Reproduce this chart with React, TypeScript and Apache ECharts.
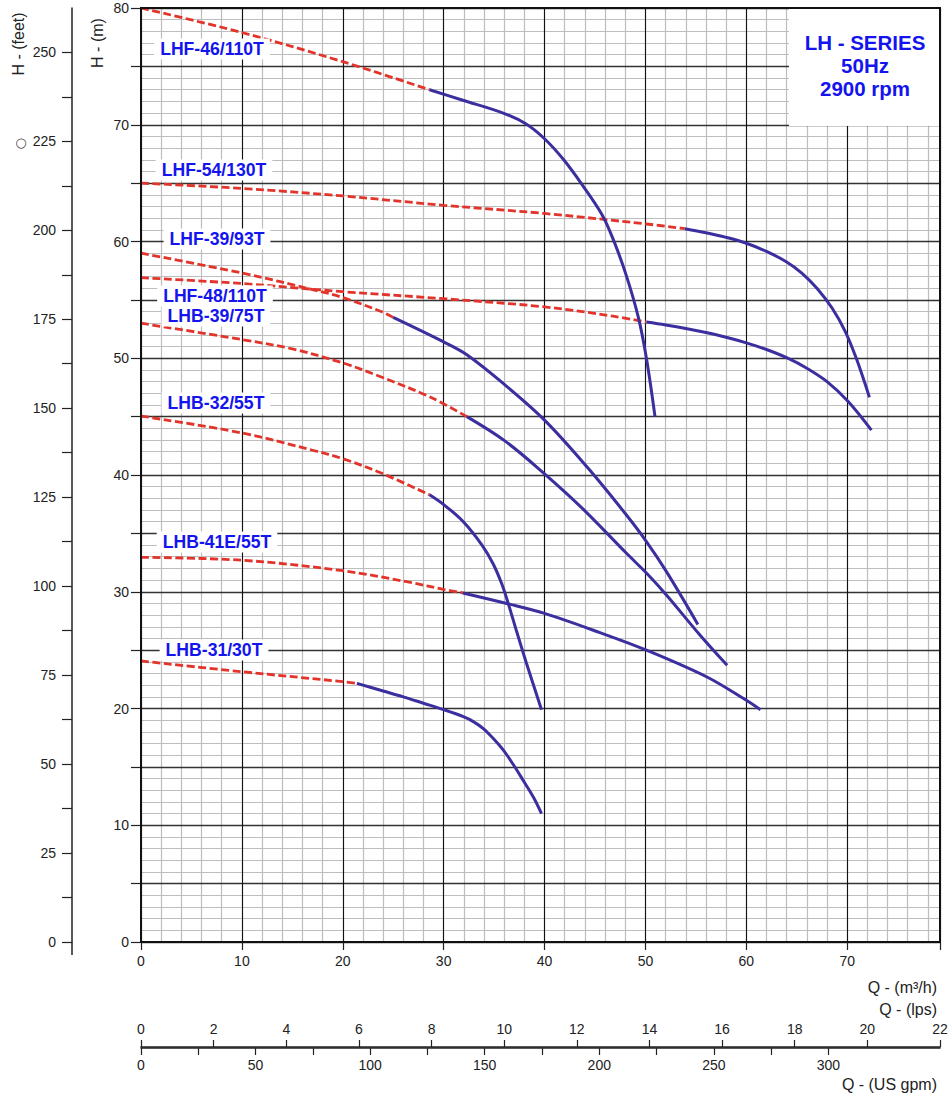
import React, { useEffect, useRef } from "react";
import * as echarts from "echarts";

// ---- Data (Q in m³/h, H in m) ----
const lhf46Dash = [[0, 80], [10, 77.9], [20, 75.4], [28.6, 73.0]];
const lhf46Solid = [[28.6, 73.0], [31.9, 72.1], [35.9, 71.0], [38.1, 70.1], [40.0, 68.8], [41.9, 67.0], [43.7, 64.9], [45.7, 62.3], [46.8, 60.2], [48.1, 57.1], [49.3, 53.5], [50.1, 50.0], [50.95, 45.0]];

const lhf54Dash = [[0, 65.0], [10, 64.55], [20, 63.9], [30, 63.1], [40, 62.4], [50.1, 61.5], [53.9, 61.1]];
const lhf54Solid = [[53.9, 61.1], [56.0, 60.75], [58.0, 60.35], [60.0, 59.85], [62.0, 59.15], [64.0, 58.25], [65.5, 57.3], [67.0, 56.0], [68.5, 54.3], [69.8, 52.3], [70.9, 50.0], [71.7, 48.0], [72.2, 46.65]];

const lhf39Dash = [[0, 59.0], [10, 57.3], [17.4, 55.8], [20, 55.2], [23.8, 54.0], [25.0, 53.5]];
const lhf39Solid = [[25.0, 53.5], [30.0, 51.4], [32.3, 50.3], [36.1, 47.7], [40.0, 44.7], [44.2, 40.7], [48.0, 36.7], [50.1, 34.3], [52.1, 31.7], [55.2, 27.2]];

const lhf48Dash = [[0, 56.9], [10, 56.4], [20, 55.7], [30, 55.1], [40, 54.4], [46.8, 53.6], [50.1, 53.1]];
const lhf48Solid = [[50.1, 53.1], [52.0, 52.85], [54.0, 52.55], [56.0, 52.2], [58.0, 51.8], [60.0, 51.32], [62.0, 50.75], [64.0, 50.05], [66.0, 49.15], [68.0, 48.0], [70.1, 46.3], [72.4, 43.85]];

const lhb39Dash = [[0, 53.0], [10, 51.6], [15, 50.8], [20, 49.6], [23.5, 48.5], [28.6, 46.7], [32.3, 45.0]];
const lhb39Solid = [[32.3, 45.0], [36.1, 42.9], [40.0, 40.1], [43.8, 37.1], [48.0, 33.4], [50.1, 31.6], [52.1, 29.7], [55.4, 26.3], [58.1, 23.7]];

const lhb32Dash = [[0, 45.05], [10, 43.6], [17.1, 42.1], [20, 41.4], [24, 40.1], [28.6, 38.3]];
const lhb32Solid = [[28.6, 38.3], [30.1, 37.4], [31.95, 36.0], [33.8, 34.0], [34.9, 32.4], [35.75, 30.7], [36.4, 29.0], [37.2, 26.7], [38.2, 23.9], [39.7, 19.9]];

const lhb41Dash = [[0, 32.95], [10, 32.7], [20, 31.8], [26.7, 30.8], [30, 30.2], [31.9, 29.9]];
const lhb41Solid = [[31.9, 29.9], [36.25, 29.0], [40.0, 28.15], [45.5, 26.5], [50.1, 25.0], [56.1, 22.7], [60.0, 20.7], [61.4, 19.9]];

const lhb31Dash = [[0, 24.07], [10, 23.15], [20, 22.3], [21.4, 22.15]];
const lhb31Solid = [[21.4, 22.15], [24.0, 21.5], [26.0, 21.0], [28.0, 20.45], [30.0, 19.9], [31.95, 19.3], [32.9, 18.9], [33.9, 18.3], [34.9, 17.45], [35.9, 16.45], [36.9, 15.2], [37.7, 14.1], [38.9, 12.4], [39.7, 11.0]];

const pumpNames = ["LHF-46/110T", "LHF-54/130T", "LHF-39/93T", "LHF-48/110T", "LHB-39/75T", "LHB-32/55T", "LHB-41E/55T", "LHB-31/30T"];
const dashCurves = [lhf46Dash, lhf54Dash, lhf39Dash, lhf48Dash, lhb39Dash, lhb32Dash, lhb41Dash, lhb31Dash];
const solidCurves = [lhf46Solid, lhf54Solid, lhf39Solid, lhf48Solid, lhb39Solid, lhb32Solid, lhb41Solid, lhb31Solid];

// Axis tick values
const feetTicks = Array.from({ length: 21 }, (_, i) => i * 12.5);
const feetLabels = Array.from({ length: 11 }, (_, i) => i * 25);
const gpmTicks = Array.from({ length: 13 }, (_, i) => i * 25);
const gpmLabels = Array.from({ length: 7 }, (_, i) => i * 50);
const titleLines = ["LH - SERIES", "50Hz", "2900 rpm"];

// Unit conversions
const Q_MAX = 79.2; // m³/h
const H_MAX = 80; // m
const FEET_MAX = H_MAX / 0.3048;
const LPS_MAX = Q_MAX / 3.6;
const GPM_MAX = Q_MAX / 0.2271247;

const FONT = '"Liberation Sans", Arial, Helvetica, sans-serif';
const TXT = "#222";
const RED = "#e2342a";
const BLUE = "#3b2f9f";
const LABEL_BLUE = "#1414ee";

const G = { left: 141, top: 8, width: 799, height: 934 };

// label centres (px)
const labelPos = [
  [212, 49], [214, 170], [217, 239], [215, 296], [216, 316], [216, 403], [217, 542], [214, 650],
];

export default function App() {
  const ref = useRef<HTMLDivElement>(null);
  useEffect(() => {
    const chart = echarts.init(ref.current!, null, { renderer: "svg" });
    const series: any[] = [];
    pumpNames.forEach((name, i) => {
      series.push({
        name: name + " (ext)",
        type: "line",
        xAxisIndex: 0,
        yAxisIndex: 0,
        data: dashCurves[i],
        showSymbol: false,
        smooth: 0.35,
        lineStyle: { color: RED, width: 2.8, type: [8, 3.5] },
        z: 3,
      });
      series.push({
        name,
        type: "line",
        xAxisIndex: 0,
        yAxisIndex: 0,
        data: solidCurves[i],
        showSymbol: false,
        smooth: 0.35,
        lineStyle: { color: BLUE, width: 3 },
        z: 4,
      });
    });

    const graphic: any[] = [
      // title box
      { type: "rect", shape: { x: 789, y: 9, width: 150, height: 117 }, style: { fill: "#fff" }, z: 50 },
      ...titleLines.map((t, i) => ({
        type: "text",
        x: 865,
        y: 42 + i * 23,
        z: 51,
        style: { text: t, fill: LABEL_BLUE, fontSize: 20.5, fontWeight: "bold", fontFamily: FONT, align: "center", verticalAlign: "middle" },
      })),
      // pump labels
      ...pumpNames.map((t, i) => ({
        type: "text",
        x: labelPos[i][0],
        y: labelPos[i][1],
        z: 51,
        style: {
          text: t, fill: LABEL_BLUE, fontSize: 17.6, fontWeight: "bold", fontFamily: FONT,
          align: "center", verticalAlign: "middle", backgroundColor: "#fff", padding: [2, 6, 1, 6],
        },
      })),
      // plot border
      { type: "rect", shape: { x: G.left, y: G.top, width: G.width, height: G.height }, style: { fill: "none", stroke: "#111", lineWidth: 2 }, z: 60 },
      // feet axis extension
      { type: "line", shape: { x1: 72, y1: 942, x2: 72, y2: 955 }, style: { stroke: "#222", lineWidth: 1.5 }, z: 60 },
      // axis names
      { type: "text", x: 18, y: 44, rotation: Math.PI / 2, z: 51, style: { text: "H - (feet)", fill: TXT, fontSize: 16, fontFamily: FONT, align: "center", verticalAlign: "middle" } },
      { type: "text", x: 97, y: 43, rotation: Math.PI / 2, z: 51, style: { text: "H - (m)", fill: TXT, fontSize: 16, fontFamily: FONT, align: "center", verticalAlign: "middle" } },
      { type: "text", x: 21, y: 142, z: 51, style: { text: "○", fill: "#444", fontSize: 13, fontFamily: '"DejaVu Sans", sans-serif', align: "center", verticalAlign: "middle" } },
      { type: "text", x: 937, y: 987, z: 51, style: { text: "Q - (m³/h)", fill: TXT, fontSize: 16, fontFamily: FONT, align: "right", verticalAlign: "middle" } },
      { type: "text", x: 937, y: 1009, z: 51, style: { text: "Q - (lps)", fill: TXT, fontSize: 16, fontFamily: FONT, align: "right", verticalAlign: "middle" } },
      { type: "text", x: 937, y: 1084, z: 51, style: { text: "Q - (US gpm)", fill: TXT, fontSize: 16, fontFamily: FONT, align: "right", verticalAlign: "middle" } },
    ];

    const labelStyle = { fontSize: 14, color: TXT, fontFamily: FONT };

    const option: any = {
      animation: false,
      backgroundColor: "#fff",
      grid: [
        { ...G, outerBoundsMode: "none", containLabel: false },
        { left: G.left, top: 1047, width: G.width, height: 1, outerBoundsMode: "none", containLabel: false },
        { ...G, outerBoundsMode: "none", containLabel: false },
      ],
      xAxis: [
        {
          type: "value", gridIndex: 0, position: "bottom", min: 0, max: Q_MAX, interval: 10, z: 1,
          axisLine: { show: false, onZero: false },
          axisTick: { show: true, length: 8, lineStyle: { color: TXT, width: 1.2 } },
          axisLabel: { ...labelStyle, margin: 12, showMaxLabel: true, showMinLabel: true, formatter: (v: number) => (Math.abs(v % 10) < 1e-6 ? String(v) : "") },
          splitLine: { show: true, lineStyle: { color: "#111", width: 1.1 } },
        },
        {
          type: "value", gridIndex: 0, position: "top", min: 0, max: Q_MAX, interval: 2, z: 0,
          axisLine: { show: false, onZero: false }, axisTick: { show: false }, axisLabel: { show: false },
          splitLine: { show: true, lineStyle: { color: "#bdbdbd", width: 1.2 } },
        },
        {
          type: "value", gridIndex: 1, position: "top", min: 0, max: LPS_MAX, interval: 2,
          axisLine: { show: true, onZero: false, lineStyle: { color: TXT, width: 1.5 } },
          axisTick: { show: true, length: 7, lineStyle: { color: TXT, width: 1.2 } },
          axisLabel: { ...labelStyle, margin: 11, showMaxLabel: true, showMinLabel: true },
          splitLine: { show: false },
        },
        {
          type: "value", gridIndex: 1, position: "bottom", min: 0, max: GPM_MAX, interval: 25,
          axisLine: { show: true, onZero: false, lineStyle: { color: TXT, width: 1.5 } },
          axisTick: { show: true, length: 7, customValues: gpmTicks, lineStyle: { color: TXT, width: 1.2 } },
          axisLabel: { ...labelStyle, margin: 10, customValues: gpmLabels, showMaxLabel: true, showMinLabel: true, formatter: (v: number) => (v % 50 === 0 && v <= 300 ? String(v) : "") },
          splitLine: { show: false },
        },
        { type: "value", gridIndex: 2, show: false, min: 0, max: 1 },
      ],
      yAxis: [
        {
          type: "value", gridIndex: 0, position: "left", min: 0, max: H_MAX, interval: 5, z: 1,
          axisLine: { show: false, onZero: false },
          axisTick: { show: true, length: 10, lineStyle: { color: TXT, width: 1.2 } },
          axisLabel: { ...labelStyle, margin: 12, showMaxLabel: true, showMinLabel: true, formatter: (v: number) => (v % 10 === 0 ? String(v) : "") },
          splitLine: { show: true, lineStyle: { color: "#333", width: 1.4 } },
        },
        {
          type: "value", gridIndex: 0, position: "right", min: 0, max: H_MAX, interval: 1, z: 0,
          axisLine: { show: false, onZero: false }, axisTick: { show: false }, axisLabel: { show: false },
          splitLine: { show: true, lineStyle: { color: "#bdbdbd", width: 1.2 } },
        },
        { type: "value", gridIndex: 1, show: false, min: 0, max: 1 },
        {
          type: "value", gridIndex: 2, position: "left", offset: 69, min: 0, max: FEET_MAX, interval: 12.5,
          axisLine: { show: true, onZero: false, lineStyle: { color: TXT, width: 1.5 } },
          axisTick: { show: true, length: 10, customValues: feetTicks, lineStyle: { color: TXT, width: 1.2 } },
          axisLabel: { ...labelStyle, margin: 16, customValues: feetLabels, showMaxLabel: true, showMinLabel: true, formatter: (v: number) => (Math.abs(v % 25) < 1e-6 && v <= 250 ? String(v) : "") },
          splitLine: { show: false },
        },
      ],
      series,
      graphic,
    };
    chart.setOption(option);
    return () => chart.dispose();
  }, []);
  return <div ref={ref} style={{ position: "fixed", left: 0, top: 0, width: 952, height: 1097, background: "#fff" }} />;
}
